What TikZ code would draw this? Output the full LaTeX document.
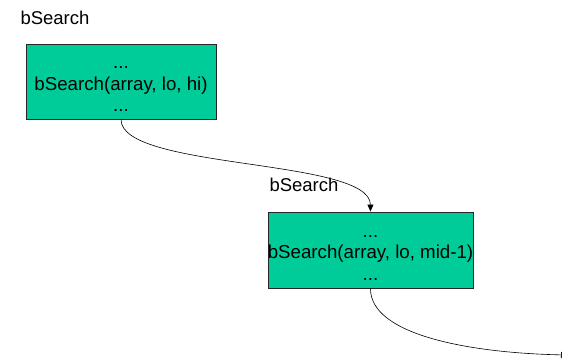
\documentclass[tikz,border=0pt]{standalone}
\usepackage{fontspec}
\setmainfont{Liberation Sans}
\usetikzlibrary{arrows.meta}
\definecolor{boxgreen}{HTML}{00CC99}
\begin{document}
\begin{tikzpicture}[x=1pt,y=-1pt,
  frame/.style={draw=black!85, line width=0.9pt, fill=boxgreen, inner sep=0pt},
  txt/.style={inner sep=0pt, align=center, font=\fontsize{18.7}{21.5}\selectfont},
  lbl/.style={inner sep=0pt, font=\fontsize{18.5}{21.5}\selectfont},
  conn/.style={draw=black, line width=0.6pt, -{Triangle[length=7pt,width=6pt]}}]
\useasboundingbox (0,0) rectangle (562,362);
\node[lbl] (t1) at (55,18) {bSearch};
\node[frame, minimum width=190pt, minimum height=75pt] (b1) at (121,81.5) {};
\node[txt] (b1t) at (121,89) {...\\bSearch(array, lo, hi)\\...};
\node[frame, minimum width=205pt, minimum height=76pt] (b2) at (370.5,250) {};
\node[txt] (b2t) at (370.5,257.5) {...\\bSearch(array, lo, mid-1)\\...};
\node[lbl] (t2) at (304,185) {bSearch};
\coordinate (e) at (568,355);
\draw[conn] (b1.south) .. controls (121,170) and (370,158) .. (b2.north);
\draw[conn] (b2.south) .. controls (370,335) and (470,353) .. (e);
\end{tikzpicture}
\end{document}
